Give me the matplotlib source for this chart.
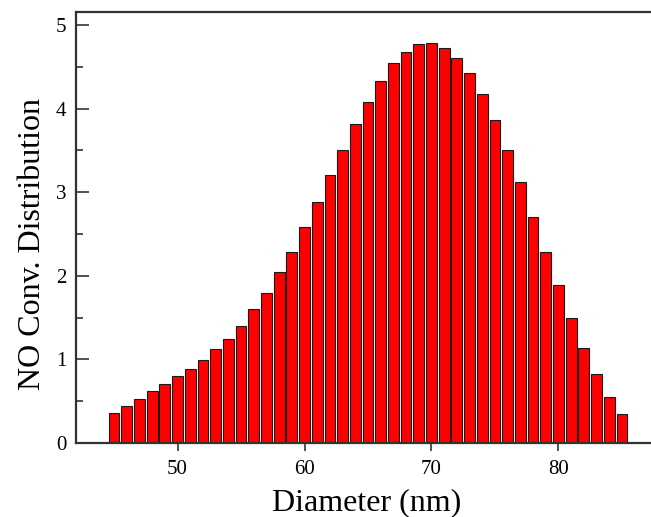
import matplotlib
matplotlib.use("Agg")
import matplotlib.pyplot as plt
from matplotlib.ticker import MultipleLocator

diameters = list(range(45, 86))
values = [0.36, 0.44, 0.53, 0.62, 0.71, 0.80, 0.89, 0.99, 1.12, 1.245,
          1.40, 1.60, 1.80, 2.04, 2.29, 2.58, 2.88, 3.20, 3.51, 3.81,
          4.08, 4.33, 4.54, 4.68, 4.77, 4.79, 4.73, 4.61, 4.42, 4.17,
          3.86, 3.50, 3.12, 2.70, 2.29, 1.89, 1.49, 1.14, 0.82, 0.55, 0.345]
xticks = [50, 60, 70, 80]
yticks = [0, 1, 2, 3, 4, 5]

plt.rcParams['font.family'] = ['Liberation Serif', 'DejaVu Serif']

fig = plt.figure(figsize=(6.51, 5.17), dpi=100)
ax = fig.add_axes([76/651, 1 - 443/517, 584/651, (443 - 12)/517])

ax.bar(diameters, values, width=0.85, color='#ff0000', edgecolor='#1a1a1a',
       linewidth=0.8)

ax.set_xlim(42, 88)
ax.set_ylim(0, 5.155)
ax.set_xticks(xticks)
ax.set_yticks(yticks)
ax.yaxis.set_minor_locator(MultipleLocator(0.5))

ax.tick_params(axis='y', which='both', direction='in', labelsize=15, width=1.2,
               color='#333333', pad=7)
ax.tick_params(axis='y', which='major', length=9)
ax.tick_params(axis='y', which='minor', length=5)
ax.tick_params(axis='x', which='major', direction='out', length=6, width=1.2,
               labelsize=15, pad=6, color='#333333')

for s in ax.spines.values():
    s.set_linewidth(1.6)
    s.set_color('#333333')

ax.set_xlabel('Diameter (nm)', fontsize=23)
ax.set_ylabel('NO Conv. Distribution', fontsize=23)
ax.xaxis.set_label_coords((367 - 76) / 584, (443 - 488) / 431)
ax.yaxis.set_label_coords((47 - 76) / 584, (443 - 244) / 431)

fig.savefig('out.png', dpi=100)
